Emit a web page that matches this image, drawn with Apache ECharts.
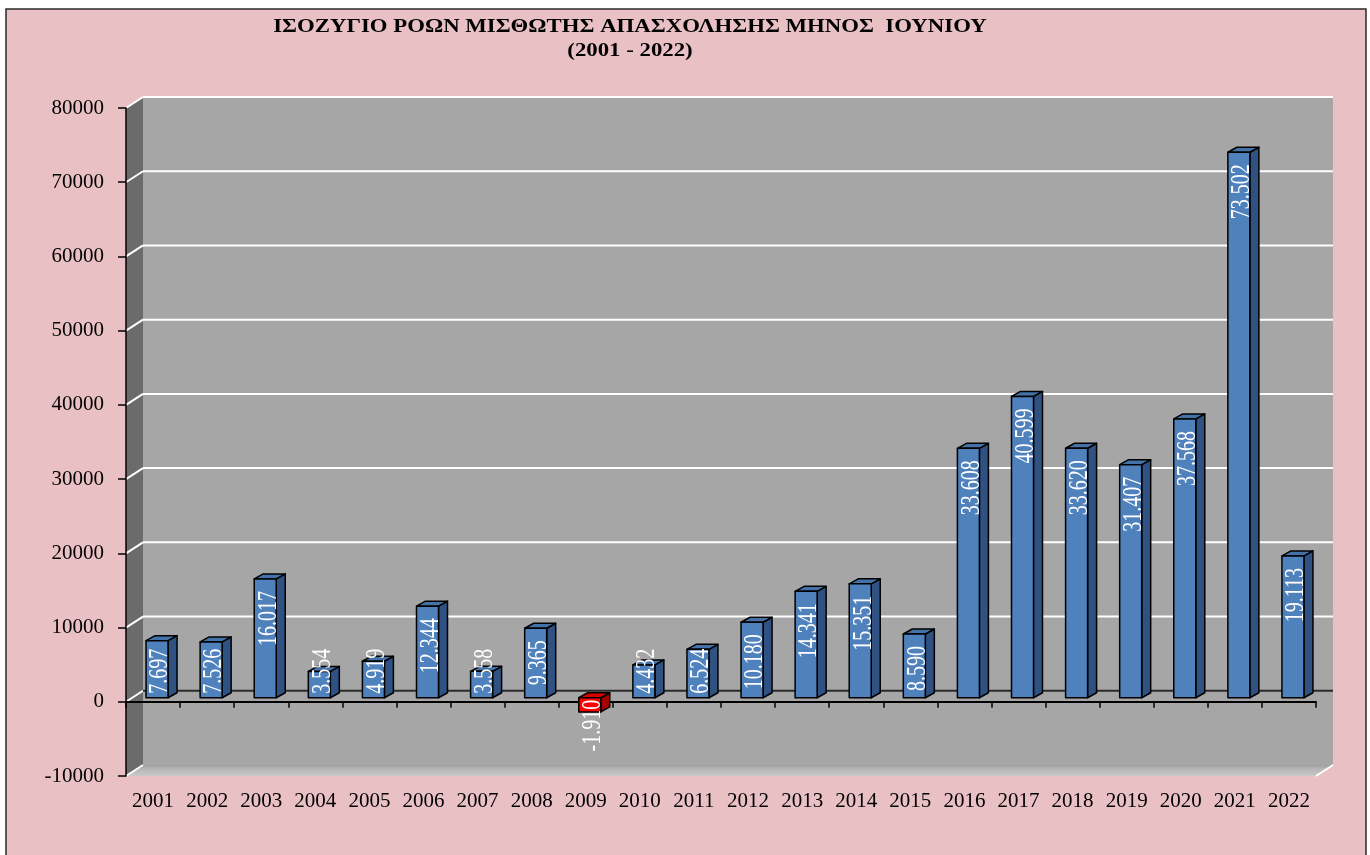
<!DOCTYPE html>
<html>
<head>
<meta charset="utf-8">
<title>Ισοζύγιο ροών μισθωτής απασχόλησης - Ιούνιος</title>
<script src="https://cdn.jsdelivr.net/npm/echarts@6/dist/echarts.min.js"></script>
<style>
  html, body { margin: 0; padding: 0; background: #fff; }
  #chart { width: 1370px; height: 855px; }
</style>
</head>
<body>
<div id="chart"></div>
<script>
// δεδομένα
const years = ['2001', '2002', '2003', '2004', '2005', '2006', '2007', '2008', '2009', '2010', '2011',
  '2012', '2013', '2014', '2015', '2016', '2017', '2018', '2019', '2020', '2021', '2022'];
const balance = [7697, 7526, 16017, 3554, 4919, 12344, 3558, 9365, -1910, 4432, 6524,
  10180, 14341, 15351, 8590, 33608, 40599, 33620, 31407, 37568, 73502, 19113];
const yMin = -10000;
const yMax = 80000;
const yStep = 10000;
const gridLevels = [-10000, 0, 10000, 20000, 30000, 40000, 50000, 60000, 70000, 80000];
const titleLines = ['ΙΣΟΖΥΓΙΟ ΡΟΩΝ ΜΙΣΘΩΤΗΣ ΑΠΑΣΧΟΛΗΣΗΣ ΜΗΝΟΣ  ΙΟΥΝΙΟΥ', '(2001 - 2022)'];

// ψευδο-3D
const DX = 17, DY = -11;          // βάθος τοίχων
const BAR_W = 22, BAR_DX = 9, BAR_DY = -5;
const BAR_OX = 4, BAR_OY = -4;    // μπάρες στο μέσο του βάθους
const SERIF = '"Liberation Serif", "Times New Roman", serif';
const LABEL_SIZE = 20;

const ctx = document.createElement('canvas').getContext('2d');
ctx.font = LABEL_SIZE + 'px ' + SERIF;

function fmt(v) {
  return String(v).replace(/\B(?=(\d{3})+(?!\d))/g, '.');
}

function renderWalls(params, api) {
  const cs = params.coordSys;
  const x0 = cs.x, x1 = cs.x + cs.width;
  const yt = api.coord([0, yMax])[1];
  const yb = api.coord([0, yMin])[1];
  return {
    type: 'group',
    children: [
      { type: 'rect', shape: { x: x0 + DX, y: yt + DY, width: cs.width, height: yb - yt }, style: { fill: '#a6a6a6' } },
      { type: 'polygon', shape: { points: [[x0, yt], [x0 + DX, yt + DY], [x0 + DX, yb + DY], [x0, yb]] }, style: { fill: '#6b6b6b' } },
      {
        type: 'polygon',
        shape: { points: [[x0, yb], [x0 + DX, yb + DY], [x1 + DX, yb + DY], [x1, yb]] },
        style: {
          fill: new echarts.graphic.LinearGradient(0, 0, 0, 1, [
            { offset: 0, color: '#9c9c9c' },
            { offset: 0.3, color: '#b4b4b4' },
            { offset: 1, color: '#c9c9c9' }
          ])
        }
      }
    ]
  };
}

function renderGridLine(params, api) {
  const cs = params.coordSys;
  const x0 = cs.x, x1 = cs.x + cs.width;
  const v = api.value(0);
  const y = api.coord([0, v])[1];
  const white = { stroke: '#ffffff', lineWidth: 2 };
  const children = [
    { type: 'line', shape: { x1: x0, y1: y, x2: x0 + DX, y2: y + DY }, style: white }
  ];
  if (v === yMin) {
    children.push({ type: 'line', shape: { x1: x1, y1: y, x2: x1 + DX, y2: y + DY }, style: white });
  } else {
    children.push({
      type: 'line',
      shape: { x1: x0 + DX, y1: y + DY, x2: x1 + DX, y2: y + DY },
      style: { stroke: v === 0 ? '#2b2b2b' : '#ffffff', lineWidth: 2 }
    });
  }
  return { type: 'group', children: children };
}

function renderBar(params, api) {
  const i = api.value(0);
  const v = api.value(1);
  const p0 = api.coord([i, 0]);
  const p1 = api.coord([i, v]);
  const cx = p0[0] + BAR_OX;
  const l = cx - BAR_W / 2, r = cx + BAR_W / 2;
  const yTop = Math.min(p0[1], p1[1]) + BAR_OY;
  const yBot = Math.max(p0[1], p1[1]) + BAR_OY;
  const neg = v < 0;
  const c = neg
    ? { front: '#ff0000', top: '#d90000', side: '#a30000' }
    : { front: '#4f81bd', top: '#4371a8', side: '#2f5283' };
  const edge = { stroke: '#000', lineWidth: 1.5, lineJoin: 'round' };

  const text = fmt(v);
  const len = ctx.measureText(text).width;
  const ay = neg ? yTop + 2 : Math.min(yTop + 12, yBot - 4 - len);

  return {
    type: 'group',
    children: [
      {
        type: 'polygon',
        shape: { points: [[r, yTop], [r + BAR_DX, yTop + BAR_DY], [r + BAR_DX, yBot + BAR_DY], [r, yBot]] },
        style: Object.assign({ fill: c.side }, edge)
      },
      {
        type: 'polygon',
        shape: { points: [[l, yTop], [r, yTop], [r + BAR_DX, yTop + BAR_DY], [l + BAR_DX, yTop + BAR_DY]] },
        style: Object.assign({ fill: c.top }, edge)
      },
      {
        type: 'rect',
        shape: { x: l, y: yTop, width: BAR_W, height: yBot - yTop },
        style: Object.assign({ fill: c.front }, edge)
      },
      {
        type: 'text',
        x: cx + 3,
        y: ay,
        rotation: Math.PI / 2,
        scaleY: 1.4,
        z2: 20,
        style: {
          text: text,
          fontSize: LABEL_SIZE,
          fontFamily: SERIF,
          fill: '#ffffff',
          align: 'right',
          verticalAlign: 'middle'
        }
      }
    ]
  };
}

const chart = echarts.init(document.getElementById('chart'));

const option = {
  backgroundColor: '#ffffff',
  animation: false,
  graphic: [
    {
      type: 'rect',
      z: -10,
      shape: { x: 6, y: 9, width: 1360, height: 860 },
      style: { fill: '#e9c1c5', stroke: '#2a2a2a', lineWidth: 1.5 }
    },
    // τίτλος, λίγο πλατύτερος όπως στο πρωτότυπο
    {
      type: 'text',
      x: 630,
      y: 27,
      scaleX: 1.2,
      style: { text: titleLines[0], fontSize: 19, fontWeight: 'bold', fontFamily: SERIF, fill: '#000', align: 'center', verticalAlign: 'middle' }
    },
    {
      type: 'text',
      x: 630,
      y: 51,
      scaleX: 1.2,
      style: { text: titleLines[1], fontSize: 19, fontWeight: 'bold', fontFamily: SERIF, fill: '#000', align: 'center', verticalAlign: 'middle' }
    }
  ],
  grid: {
    left: 126,
    top: 108,
    width: 1190,
    height: 668
  },
  xAxis: [
    {
      type: 'category',
      data: years,
      position: 'bottom',
      z: 2,
      axisLine: { show: false, onZero: false },
      axisTick: { show: false },
      axisLabel: { interval: 0, margin: 15, fontSize: 21, fontFamily: SERIF, color: '#000' },
      splitLine: { show: false }
    },
    {
      type: 'category',
      data: years,
      position: 'bottom',
      z: 2,
      axisLine: { show: true, onZero: true, lineStyle: { color: '#000', width: 2 } },
      axisTick: { show: true, length: 6, lineStyle: { color: '#000', width: 1.5 } },
      axisLabel: { show: false },
      splitLine: { show: false }
    }
  ],
  yAxis: {
    type: 'value',
    min: yMin,
    max: yMax,
    interval: yStep,
    z: 2,
    axisLine: { show: true, lineStyle: { color: '#000', width: 1.5 } },
    axisTick: { show: true, length: 8, lineStyle: { color: '#000', width: 1.5 } },
    axisLabel: { margin: 22, fontSize: 21, fontFamily: SERIF, color: '#000', formatter: v => String(v) },
    splitLine: { show: false }
  },
  series: [
    {
      name: 'walls',
      type: 'custom',
      z: 0,
      silent: true,
      renderItem: renderWalls,
      data: [[0]]
    },
    {
      name: 'gridlines',
      type: 'custom',
      z: 1,
      silent: true,
      renderItem: renderGridLine,
      encode: { x: -1, y: 0 },
      data: gridLevels.map(v => [v])
    },
    {
      name: 'Ισοζύγιο',
      type: 'custom',
      z: 3,
      renderItem: renderBar,
      encode: { x: 0, y: 1 },
      data: balance.map((v, i) => [i, v])
    }
  ]
};

chart.setOption(option);
</script>
</body>
</html>
